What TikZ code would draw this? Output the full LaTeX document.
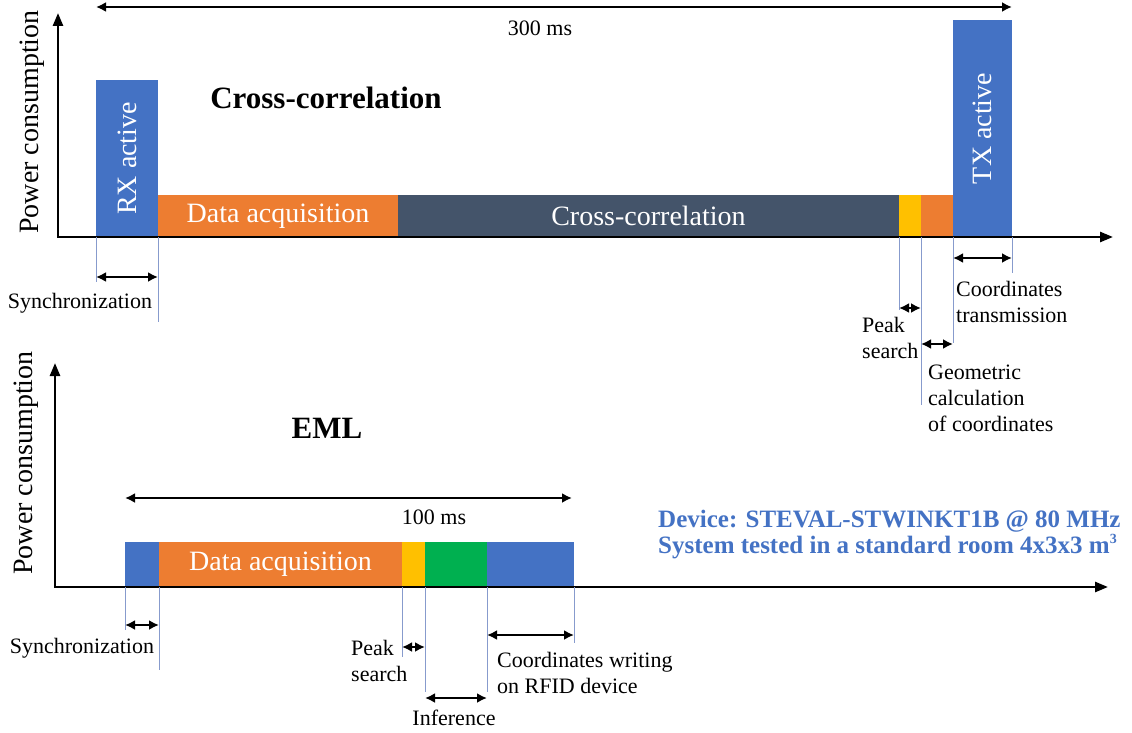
\documentclass[tikz,border=0pt]{standalone}
\usepackage{fontspec}
\setmainfont{Liberation Serif}
\usetikzlibrary{arrows.meta}
\definecolor{rxblue}{HTML}{4472C4}
\definecolor{acqorange}{HTML}{ED7D31}
\definecolor{xcdark}{HTML}{44546A}
\definecolor{pkyellow}{HTML}{FFC000}
\definecolor{infgreen}{HTML}{00B050}
\definecolor{guideblue}{RGB}{135,155,205}
\newcommand{\bigfont}{\fontsize{28}{30}\selectfont}
\newcommand{\titlefont}{\fontsize{31}{34}\selectfont\bfseries}
\newcommand{\notefont}{\fontsize{22}{26}\selectfont}
\newcommand{\devfont}{\fontsize{25}{26}\selectfont\bfseries}
\newcommand{\cubed}{\raisebox{0.42em}{\fontsize{14}{14}\selectfont 3}}
\tikzset{phase/.style={inner sep=0pt,outer sep=0pt,anchor=south west,text=white,font=\bigfont},
	 vlabel/.style={rotate=90,font=\bigfont,inner sep=0pt},
	 axis/.style={line width=2.6pt,{Triangle[length=13pt,width=10pt]}-{Triangle[length=13pt,width=10pt]}},
	 span/.style={line width=2.2pt,{Latex[length=10pt,width=10pt]}-{Latex[length=10pt,width=10pt]}},
	 guide/.style={draw=guideblue,line width=0.7pt},
	 note/.style={font=\notefont,align=left,inner sep=0pt}
	 }
\begin{document}
\begin{tikzpicture}[x=1pt,y=-1pt] % power profile: cross-correlation vs EML
	\useasboundingbox (0,0) rectangle (1132,733);
	% cross-correlation
	\node[phase,fill=rxblue,minimum width=62,minimum height=157] (rx) at (96,237) {};
	\node[vlabel,text=white] (rxtxt) at (rx.center) {RX active};
	\node[phase,fill=acqorange,minimum width=240,minimum height=42] (acq1) at (rx.south east) {Data acquisition};
	\node[phase,fill=xcdark,minimum width=501,minimum height=42] (xc) at (acq1.south east) {Cross-correlation};
	\node[phase,fill=pkyellow,minimum width=22,minimum height=42] (pk1) at (xc.south east) {};
	\node[phase,fill=acqorange,minimum width=32,minimum height=42] (geo) at (pk1.south east) {};
	\node[phase,fill=rxblue,minimum width=59,minimum height=217] (tx) at (geo.south east) {};
	\node[vlabel,text=white] (txtxt) at (tx.center) {TX active};
	\coordinate (o1) at (58,237); \coordinate (y1) at (58,13); \coordinate (x1) at (1113,237);
	\draw[axis] (y1) -- (o1) -- (x1);
	\node[vlabel] (pc1) at (32,122) {Power consumption};
	\node[font=\titlefont] (title1) at (326,98) {Cross-correlation};
	\coordinate (d1a) at (96,7); \coordinate (d1b) at (1012,7);
	\draw[span] (d1a) -- (d1b);
	\node[font=\notefont] (d1) at (540,28) {300 ms};

	\draw[guide] (rx.south west) -- ++(0,45); \draw[guide] (rx.south east) -- ++(0,85);
	\draw[span] (rx.south west |- 0,277) -- (rx.south east |- 0,277);
	\node[note] (sync1) at (80,303) {Synchronization};
	\draw[guide] (pk1.south west) -- ++(0,73); \draw[guide] (pk1.south east) -- ++(0,168);
	\draw[span] (pk1.south west |- 0,308) -- (pk1.south east |- 0,308);
	\node[note,anchor=west] (pk1lbl) at (862,338) {Peak\\search};
	\draw[guide] (geo.south east) -- ++(0,106);
	\draw[span] (geo.south west |- 0,344) -- (geo.south east |- 0,344);
	\node[note,anchor=west] (geolbl) at (928,398) {Geometric\\calculation\\of coordinates};
	\draw[guide] (tx.south east) -- ++(0,36);
	\draw[span] (tx.south west |- 0,258) -- (tx.south east |- 0,258);
	\node[note,anchor=west] (txlbl) at (956,302) {Coordinates\\transmission};

	% EML
	\node[phase,fill=rxblue,minimum width=34,minimum height=45] (sync2) at (125,587) {};
	\node[phase,fill=acqorange,minimum width=243,minimum height=45] (acq2) at (sync2.south east) {Data acquisition};
	\node[phase,fill=pkyellow,minimum width=23,minimum height=45] (pk2) at (acq2.south east) {};
	\node[phase,fill=infgreen,minimum width=62,minimum height=45] (inf) at (pk2.south east) {};
	\node[phase,fill=rxblue,minimum width=87,minimum height=45] (wr) at (inf.south east) {};
	\coordinate (o2) at (55,587); \coordinate (y2) at (55,363); \coordinate (x2) at (1108,587);
	\draw[axis] (y2) -- (o2) -- (x2);
	\node[vlabel] (pc2) at (26,463) {Power consumption};
	\node[font=\titlefont] (title2) at (327,428) {EML};
	\coordinate (d2a) at (125,498); \coordinate (d2b) at (572,498);
	\draw[span] (d2a) -- (d2b);
	\node[font=\notefont] (d2) at (434,517) {100 ms};

	\draw[guide] (sync2.south west) -- ++(0,43); \draw[guide] (sync2.south east) -- ++(0,83);
	\draw[span] (sync2.south west |- 0,625) -- (sync2.south east |- 0,625);
	\node[note] (sync2lbl) at (82,648) {Synchronization};
	\draw[guide] (pk2.south west) -- ++(0,70); \draw[guide] (pk2.south east) -- ++(0,105);
	\draw[span] (pk2.south west |- 0,647) -- (pk2.south east |- 0,647);
	\node[note,anchor=west] (pk2lbl) at (351,661) {Peak\\search};
	\draw[guide] (inf.south east) -- ++(0,105);
	\draw[span] (inf.south west |- 0,698) -- (inf.south east |- 0,698);
	\node[note] (inflbl) at (454,718) {Inference};
	\draw[guide] (wr.south east) -- ++(0,56);
	\draw[span] (wr.south west |- 0,635) -- (wr.south east |- 0,635);
	\node[note,anchor=west] (wrlbl) at (497,673) {Coordinates writing\\on RFID device};

	\node[note,font=\devfont,text=rxblue,anchor=west] (dev) at (658,535) {Device: STEVAL-STWINKT1B @ 80 MHz\\System tested in a standard room 4x3x3 m\cubed};
\end{tikzpicture}
\end{document}
